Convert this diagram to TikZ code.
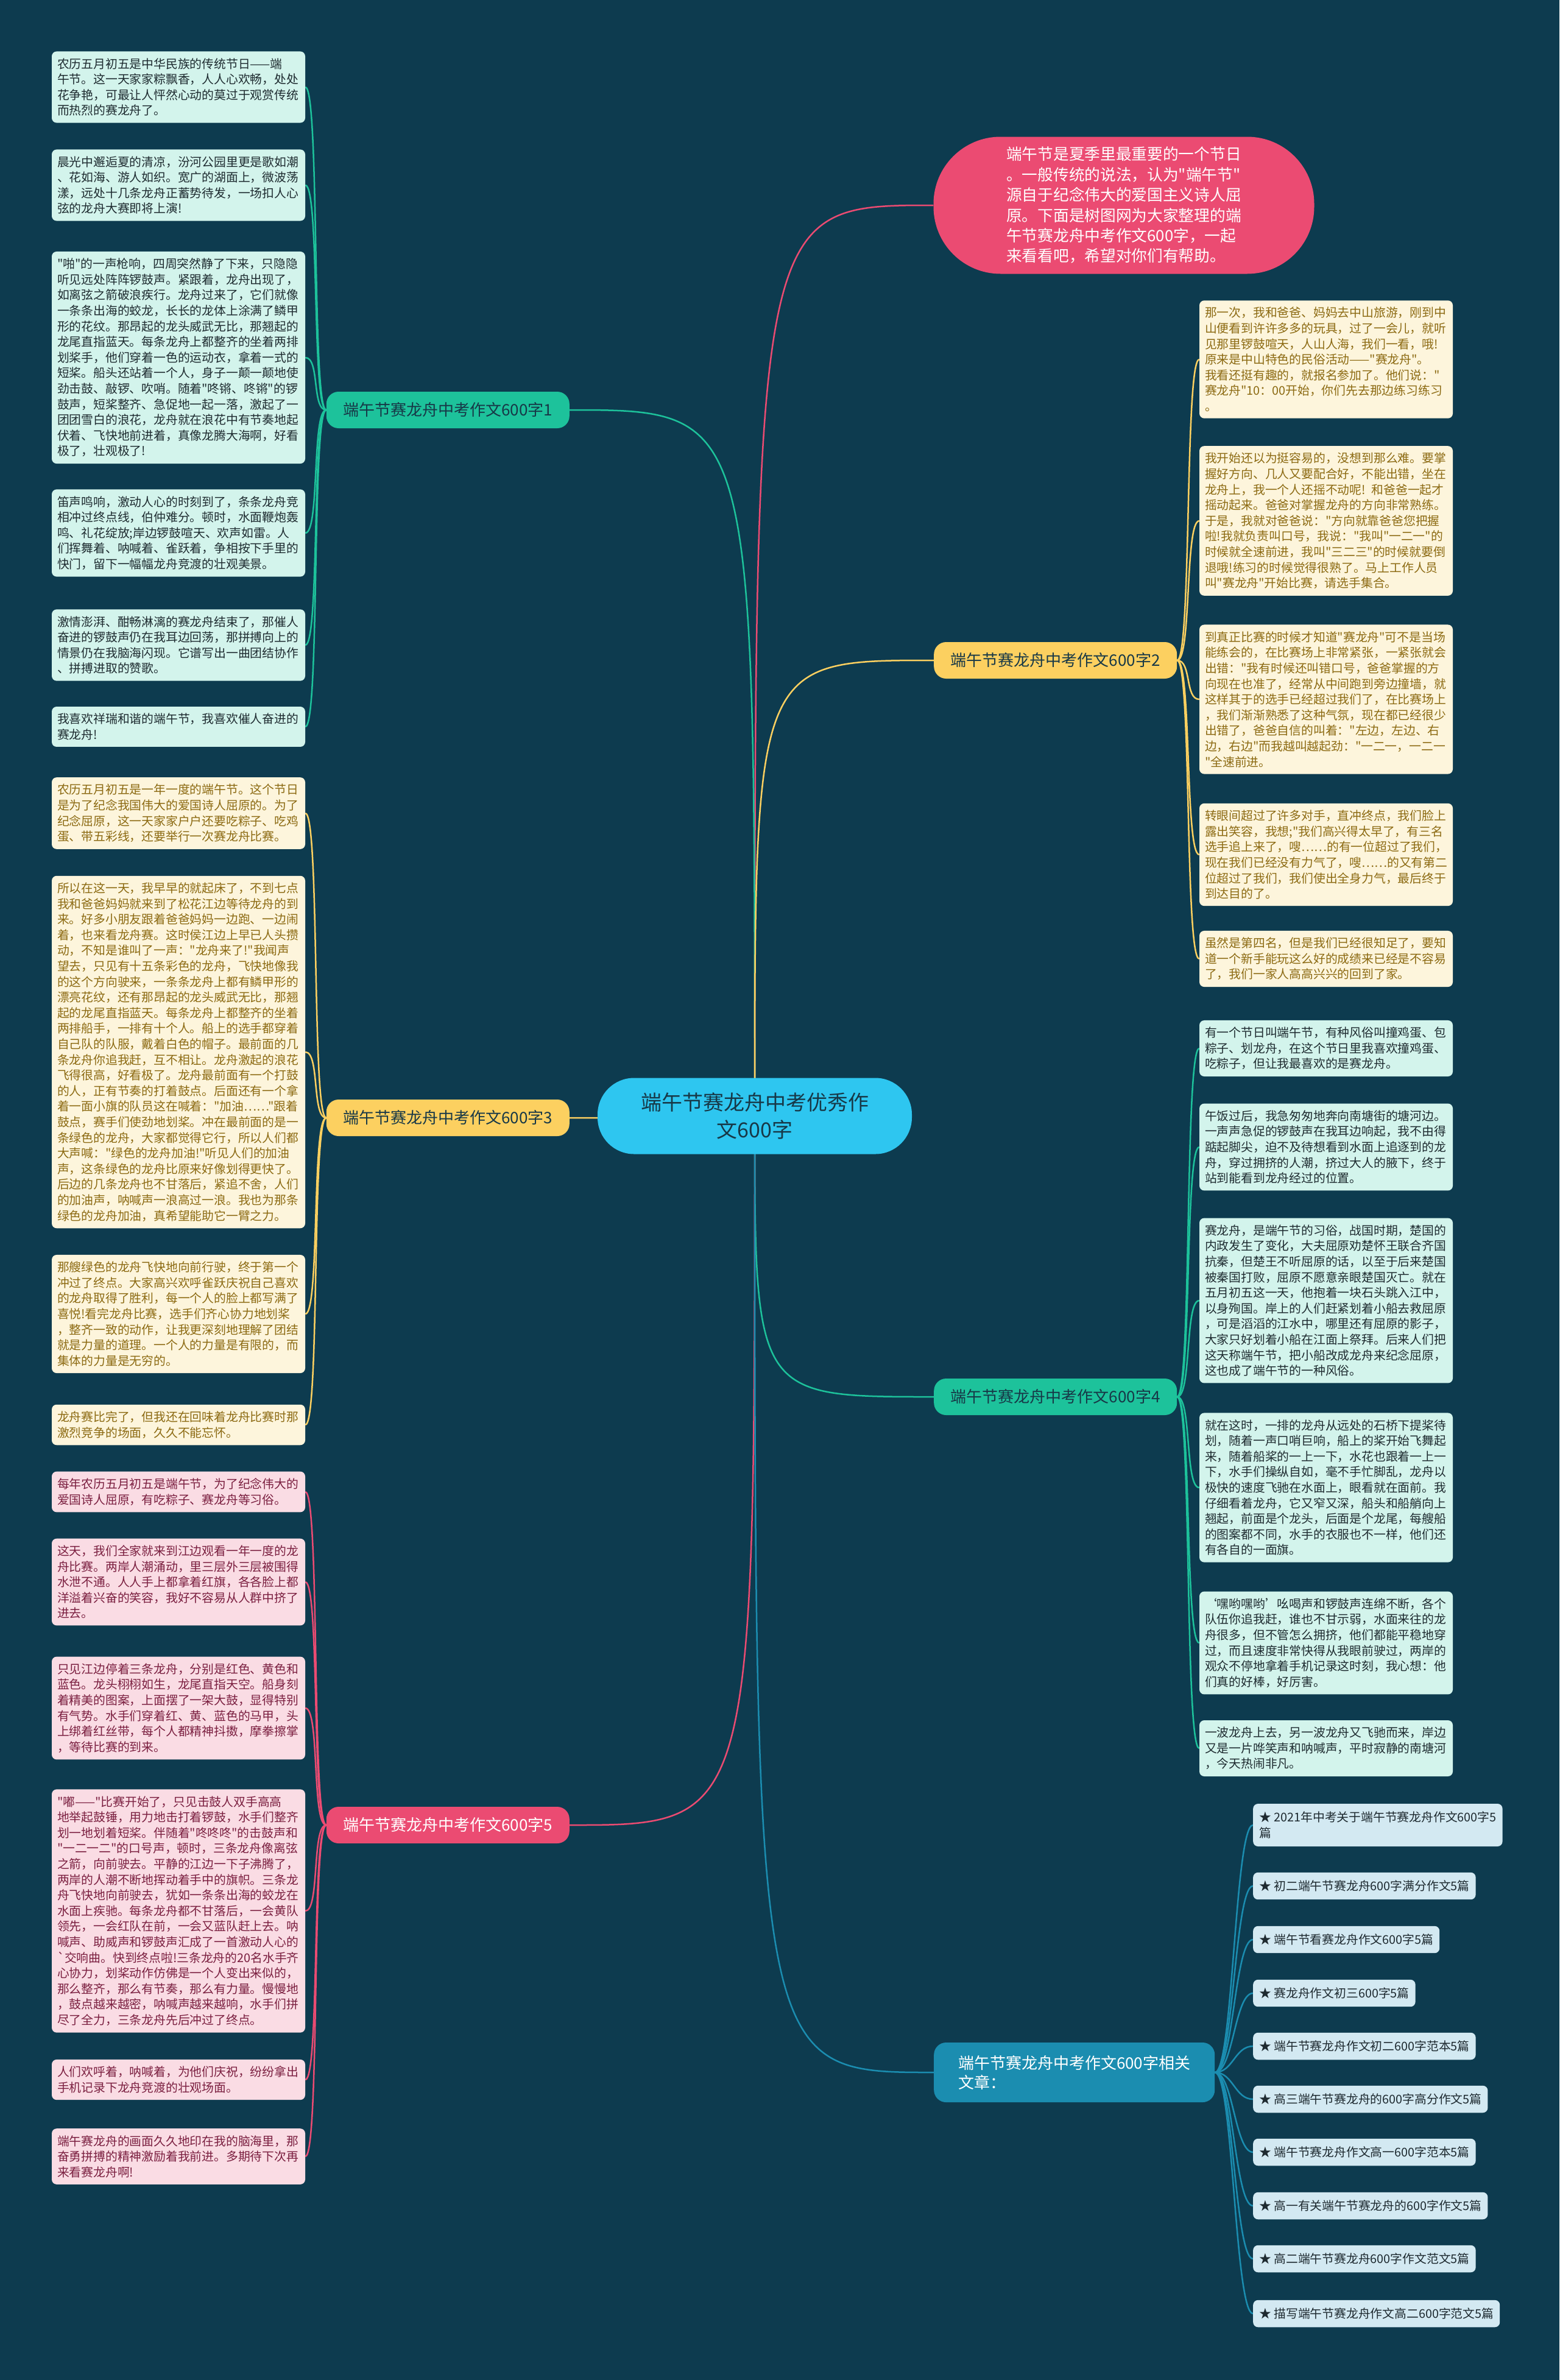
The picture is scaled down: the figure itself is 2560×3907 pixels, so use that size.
\documentclass[tikz,border=0pt]{standalone}
\usepackage{fontspec}
\newfontfamily\cjkfont{Noto Sans CJK SC}
\usetikzlibrary{positioning,backgrounds}

\definecolor{bgc}{HTML}{0D3B4F}
\definecolor{greenc}{HTML}{1DC29B}
\definecolor{gleafc}{HTML}{D3F4EC}
\definecolor{gtextc}{HTML}{1E2B30}
\definecolor{yellowc}{HTML}{FCD060}
\definecolor{yleafc}{HTML}{FDF5DC}
\definecolor{ytextc}{HTML}{8C6A12}
\definecolor{pinkc}{HTML}{EB4B72}
\definecolor{pleafc}{HTML}{FADCE4}
\definecolor{ptextc}{HTML}{7B1F40}
\definecolor{bluec}{HTML}{1B8DB0}
\definecolor{bleafc}{HTML}{D3E9F2}
\definecolor{btextc}{HTML}{1E2A30}
\definecolor{rootc}{HTML}{2EC6F0}
\definecolor{darkc}{HTML}{173847}

\newcommand\leaffont{\cjkfont\fontsize{19.8pt}{25.6pt}\selectfont}
\newcommand\branchfont{\cjkfont\fontsize{26pt}{32pt}\selectfont}

\tikzset{
  leaf/.style={rounded corners=8pt, text width=398pt, align=left, inner xsep=9pt, inner ysep=11pt, font=\leaffont},
  gleaf/.style={leaf, fill=gleafc, text=gtextc},
  yleaf/.style={leaf, fill=yleafc, text=ytextc},
  pleaf/.style={leaf, fill=pleafc, text=ptextc},
  relitem/.style={rounded corners=8pt, align=left, inner xsep=10pt, inner ysep=13pt, font=\leaffont, fill=bleafc, text=btextc, anchor=west},
  branch/.style={rounded corners=20pt, minimum width=399pt, minimum height=60pt, font=\branchfont},
  edgeg/.style={draw=greenc, line width=2.5pt},
  edgey/.style={draw=yellowc, line width=2.5pt},
  edgep/.style={draw=pinkc, line width=2.5pt},
  edgeb/.style={draw=bluec, line width=2.5pt},
}

\begin{document}
\begin{tikzpicture}[x=1pt, y=-1pt]
    \useasboundingbox (0,0) rectangle (2560,3907);

    % Root and intro
    \node[fill=rootc, text=darkc, rounded corners=60pt, minimum width=516pt, minimum height=125pt, align=center, font=\cjkfont\fontsize{34pt}{45pt}\selectfont] (root) at (1239,1832) {端午节赛龙舟中考优秀作\\文600字};
    \node[fill=pinkc, text=white, rounded corners=110pt, minimum width=625pt, minimum height=225pt, align=left, font=\cjkfont\fontsize{25.7pt}{33.4pt}\selectfont] (intro) at (1845,337) {端午节是夏季里最重要的一个节日\\。一般传统的说法，认为"端午节"\\源自于纪念伟大的爱国主义诗人屈\\原。下面是树图网为大家整理的端\\午节赛龙舟中考作文600字，一起\\来看看吧，希望对你们有帮助。};

    % Branch labels
    \node[branch, fill=greenc, text=darkc, anchor=east] (b1) at (935,673) {端午节赛龙舟中考作文600字1};
    \node[branch, fill=yellowc, text=darkc, anchor=west] (b2) at (1533,1084) {端午节赛龙舟中考作文600字2};
    \node[branch, fill=yellowc, text=darkc, anchor=east] (b3) at (935,1835) {端午节赛龙舟中考作文600字3};
    \node[branch, fill=greenc, text=darkc, anchor=west] (b4) at (1533,2293) {端午节赛龙舟中考作文600字4};
    \node[branch, fill=pinkc, text=white, anchor=east] (b5) at (935,2996) {端午节赛龙舟中考作文600字5};
    \node[branch, fill=bluec, text=white, anchor=west, align=left, minimum width=461pt, inner ysep=21pt] (b6) at (1533,3402) {端午节赛龙舟中考作文600字相关\\文章：};

    % Branch 1 leaves
    \node[gleaf] (b1a) at (293,143) {农历五月初五是中华民族的传统节日——端\\午节。这一天家家粽飘香，人人心欢畅，处处\\花争艳，可最让人怦然心动的莫过于观赏传统\\而热烈的赛龙舟了。};
    \node[gleaf] (b1b) at (293,304) {晨光中邂逅夏的清凉，汾河公园里更是歌如潮\\、花如海、游人如织。宽广的湖面上，微波荡\\漾，远处十几条龙舟正蓄势待发，一场扣人心\\弦的龙舟大赛即将上演!};
    \node[gleaf] (b1c) at (293,587) {"啪"的一声枪响，四周突然静了下来，只隐隐\\听见远处阵阵锣鼓声。紧跟着，龙舟出现了，\\如离弦之箭破浪疾行。龙舟过来了，它们就像\\一条条出海的蛟龙，长长的龙体上涂满了鳞甲\\形的花纹。那昂起的龙头威武无比，那翘起的\\龙尾直指蓝天。每条龙舟上都整齐的坐着两排\\划桨手，他们穿着一色的运动衣，拿着一式的\\短桨。船头还站着一个人，身子一颠一颠地使\\劲击鼓、敲锣、吹哨。随着"咚锵、咚锵"的锣\\鼓声，短桨整齐、急促地一起一落，激起了一\\团团雪白的浪花，龙舟就在浪花中有节奏地起\\伏着、飞快地前进着，真像龙腾大海啊，好看\\极了，壮观极了!};
    \node[gleaf] (b1d) at (293,875) {笛声鸣响，激动人心的时刻到了，条条龙舟竞\\相冲过终点线，伯仲难分。顿时，水面鞭炮轰\\鸣、礼花绽放;岸边锣鼓喧天、欢声如雷。人\\们挥舞着、呐喊着、雀跃着，争相按下手里的\\快门，留下一幅幅龙舟竞渡的壮观美景。};
    \node[gleaf] (b1e) at (293,1059) {激情澎湃、酣畅淋漓的赛龙舟结束了，那催人\\奋进的锣鼓声仍在我耳边回荡，那拼搏向上的\\情景仍在我脑海闪现。它谱写出一曲团结协作\\、拼搏进取的赞歌。};
    \node[gleaf] (b1f) at (293,1193) {我喜欢祥瑞和谐的端午节，我喜欢催人奋进的\\赛龙舟!};

    % Branch 3 leaves
    \node[yleaf] (b3a) at (293,1335) {农历五月初五是一年一度的端午节。这个节日\\是为了纪念我国伟大的爱国诗人屈原的。为了\\纪念屈原，这一天家家户户还要吃粽子、吃鸡\\蛋、带五彩线，还要举行一次赛龙舟比赛。};
    \node[yleaf] (b3b) at (293,1727) {所以在这一天，我早早的就起床了，不到七点\\我和爸爸妈妈就来到了松花江边等待龙舟的到\\来。好多小朋友跟着爸爸妈妈一边跑、一边闹\\着，也来看龙舟赛。这时侯江边上早已人头攒\\动，不知是谁叫了一声："龙舟来了!"我闻声\\望去，只见有十五条彩色的龙舟，飞快地像我\\的这个方向驶来，一条条龙舟上都有鳞甲形的\\漂亮花纹，还有那昂起的龙头威武无比，那翘\\起的龙尾直指蓝天。每条龙舟上都整齐的坐着\\两排船手，一排有十个人。船上的选手都穿着\\自己队的队服，戴着白色的帽子。最前面的几\\条龙舟你追我赶，互不相让。龙舟激起的浪花\\飞得很高，好看极了。龙舟最前面有一个打鼓\\的人，正有节奏的打着鼓点。后面还有一个拿\\着一面小旗的队员这在喊着："加油……"跟着\\鼓点，赛手们使劲地划桨。冲在最前面的是一\\条绿色的龙舟，大家都觉得它行，所以人们都\\大声喊："绿色的龙舟加油!"听见人们的加油\\声，这条绿色的龙舟比原来好像划得更快了。\\后边的几条龙舟也不甘落后，紧追不舍，人们\\的加油声，呐喊声一浪高过一浪。我也为那条\\绿色的龙舟加油，真希望能助它一臂之力。};
    \node[yleaf] (b3c) at (293,2157) {那艘绿色的龙舟飞快地向前行驶，终于第一个\\冲过了终点。大家高兴欢呼雀跃庆祝自己喜欢\\的龙舟取得了胜利，每一个人的脸上都写满了\\喜悦!看完龙舟比赛，选手们齐心协力地划桨\\，整齐一致的动作，让我更深刻地理解了团结\\就是力量的道理。一个人的力量是有限的，而\\集体的力量是无穷的。};
    \node[yleaf] (b3d) at (293,2339) {龙舟赛比完了，但我还在回味着龙舟比赛时那\\激烈竞争的场面，久久不能忘怀。};

    % Branch 5 leaves
    \node[pleaf] (b5a) at (293,2449) {每年农历五月初五是端午节，为了纪念伟大的\\爱国诗人屈原，有吃粽子、赛龙舟等习俗。};
    \node[pleaf] (b5b) at (293,2597) {这天，我们全家就来到江边观看一年一度的龙\\舟比赛。两岸人潮涌动，里三层外三层被围得\\水泄不通。人人手上都拿着红旗，各各脸上都\\洋溢着兴奋的笑容，我好不容易从人群中挤了\\进去。};
    \node[pleaf] (b5c) at (293,2804) {只见江边停着三条龙舟，分别是红色、黄色和\\蓝色。龙头栩栩如生，龙尾直指天空。船身刻\\着精美的图案，上面摆了一架大鼓，显得特别\\有气势。水手们穿着红、黄、蓝色的马甲，头\\上绑着红丝带，每个人都精神抖擞，摩拳擦掌\\，等待比赛的到来。};
    \node[pleaf] (b5d) at (293,3137) {"嘟——"比赛开始了，只见击鼓人双手高高\\地举起鼓锤，用力地击打着锣鼓，水手们整齐\\划一地划着短桨。伴随着"咚咚咚"的击鼓声和\\"一二一二"的口号声，顿时，三条龙舟像离弦\\之箭，向前驶去。平静的江边一下子沸腾了，\\两岸的人潮不断地挥动着手中的旗帜。三条龙\\舟飞快地向前驶去，犹如一条条出海的蛟龙在\\水面上疾驰。每条龙舟都不甘落后，一会黄队\\领先，一会红队在前，一会又蓝队赶上去。呐\\喊声、助威声和锣鼓声汇成了一首激动人心的\\`交响曲。快到终点啦!三条龙舟的20名水手齐\\心协力，划桨动作仿佛是一个人变出来似的，\\那么整齐，那么有节奏，那么有力量。慢慢地\\，鼓点越来越密，呐喊声越来越响，水手们拼\\尽了全力，三条龙舟先后冲过了终点。};
    \node[pleaf] (b5e) at (293,3414) {人们欢呼着，呐喊着，为他们庆祝，纷纷拿出\\手机记录下龙舟竞渡的壮观场面。};
    \node[pleaf] (b5f) at (293,3540) {端午赛龙舟的画面久久地印在我的脑海里，那\\奋勇拼搏的精神激励着我前进。多期待下次再\\来看赛龙舟啊!};

    % Branch 2 leaves
    \node[yleaf] (b2a) at (2177,590) {那一次，我和爸爸、妈妈去中山旅游，刚到中\\山便看到许许多多的玩具，过了一会儿，就听\\见那里锣鼓喧天，人山人海，我们一看，哦!\\原来是中山特色的民俗活动——"赛龙舟"。\\我看还挺有趣的，就报名参加了。他们说："\\赛龙舟"10：00开始，你们先去那边练习练习\\。};
    \node[yleaf] (b2b) at (2177,855) {我开始还以为挺容易的，没想到那么难。要掌\\握好方向、几人又要配合好，不能出错，坐在\\龙舟上，我一个人还摇不动呢! 和爸爸一起才\\摇动起来。爸爸对掌握龙舟的方向非常熟练。\\于是，我就对爸爸说："方向就靠爸爸您把握\\啦!我就负责叫口号，我说："我叫"一二一"的\\时候就全速前进，我叫"三二三"的时候就要倒\\退哦!练习的时候觉得很熟了。马上工作人员\\叫"赛龙舟"开始比赛，请选手集合。};
    \node[yleaf] (b2c) at (2177,1148) {到真正比赛的时候才知道"赛龙舟"可不是当场\\能练会的，在比赛场上非常紧张，一紧张就会\\出错："我有时候还叫错口号，爸爸掌握的方\\向现在也准了，经常从中间跑到旁边撞墙，就\\这样其于的选手已经超过我们了，在比赛场上\\，我们渐渐熟悉了这种气氛，现在都已经很少\\出错了，爸爸自信的叫着："左边，左边、右\\边，右边"而我越叫越起劲："一二一，一二一\\"全速前进。};
    \node[yleaf] (b2d) at (2177,1403) {转眼间超过了许多对手，直冲终点，我们脸上\\露出笑容，我想;"我们高兴得太早了，有三名\\选手追上来了，嗖……的有一位超过了我们，\\现在我们已经没有力气了，嗖……的又有第二\\位超过了我们，我们使出全身力气，最后终于\\到达目的了。};
    \node[yleaf] (b2e) at (2177,1574) {虽然是第四名，但是我们已经很知足了，要知\\道一个新手能玩这么好的成绩来已经是不容易\\了，我们一家人高高兴兴的回到了家。};

    % Branch 4 leaves
    \node[gleaf] (b4a) at (2177,1721) {有一个节日叫端午节，有种风俗叫撞鸡蛋、包\\粽子、划龙舟，在这个节日里我喜欢撞鸡蛋、\\吃粽子，但让我最喜欢的是赛龙舟。};
    \node[gleaf] (b4b) at (2177,1883) {午饭过后，我急匆匆地奔向南塘街的塘河边。\\一声声急促的锣鼓声在我耳边响起，我不由得\\踮起脚尖，迫不及待想看到水面上追逐到的龙\\舟，穿过拥挤的人潮，挤过大人的腋下，终于\\站到能看到龙舟经过的位置。};
    \node[gleaf] (b4c) at (2177,2135) {赛龙舟，是端午节的习俗，战国时期，楚国的\\内政发生了变化，大夫屈原劝楚怀王联合齐国\\抗秦，但楚王不听屈原的话，以至于后来楚国\\被秦国打败，屈原不愿意亲眼楚国灭亡。就在\\五月初五这一天，他抱着一块石头跳入江中，\\以身殉国。岸上的人们赶紧划着小船去救屈原\\，可是滔滔的江水中，哪里还有屈原的影子，\\大家只好划着小船在江面上祭拜。后来人们把\\这天称端午节，把小船改成龙舟来纪念屈原，\\这也成了端午节的一种风俗。};
    \node[gleaf] (b4d) at (2177,2442) {就在这时，一排的龙舟从远处的石桥下提桨待\\划，随着一声口哨巨响，船上的桨开始飞舞起\\来，随着船桨的一上一下，水花也跟着一上一\\下，水手们操纵自如，毫不手忙脚乱，龙舟以\\极快的速度飞驰在水面上，眼看就在面前。我\\仔细看着龙舟，它又窄又深，船头和船艄向上\\翘起，前面是个龙头，后面是个龙尾，每艘船\\的图案都不同，水手的衣服也不一样，他们还\\有各自的一面旗。};
    \node[gleaf] (b4e) at (2177,2697) {‘嘿哟嘿哟’吆喝声和锣鼓声连绵不断，各个\\队伍你追我赶，谁也不甘示弱，水面来往的龙\\舟很多，但不管怎么拥挤，他们都能平稳地穿\\过，而且速度非常快得从我眼前驶过，两岸的\\观众不停地拿着手机记录这时刻，我心想：他\\们真的好棒，好厉害。};
    \node[gleaf] (b4f) at (2177,2870) {一波龙舟上去，另一波龙舟又飞驰而来，岸边\\又是一片哗笑声和呐喊声，平时寂静的南塘河\\，今天热闹非凡。};

    % Related articles
    \foreach \i/\y/\t in {1/2996/{★ 2021年中考关于端午节赛龙舟作文600字5\\篇},
                          2/3096/{★ 初二端午节赛龙舟600字满分作文5篇},
                          3/3184/{★ 端午节看赛龙舟作文600字5篇},
                          4/3272/{★ 赛龙舟作文初三600字5篇},
                          5/3359/{★ 端午节赛龙舟作文初二600字范本5篇},
                          6/3446/{★ 高三端午节赛龙舟的600字高分作文5篇},
                          7/3533/{★ 端午节赛龙舟作文高一600字范本5篇},
                          8/3621/{★ 高一有关端午节赛龙舟的600字作文5篇},
                          9/3708/{★ 高二端午节赛龙舟600字作文范文5篇},
                          10/3798/{★ 描写端午节赛龙舟作文高二600字范文5篇}} {
        \node[relitem] (rel\i) at (2057,\y) {\t};
    }

    % Connectors
    \begin{pgfonlayer}{background}
        \fill[bgc] (0,0) rectangle (2560,3907);

        \draw[edgep] (root.center) .. controls (root.center |- intro.west) .. (intro.west);
        \draw[edgeg] (root.center) .. controls (root.center |- b1.east) .. (b1.east);
        \draw[edgey] (root.center) .. controls (root.center |- b2.west) .. (b2.west);
        \draw[edgey] (root.center) .. controls (root.center |- b3.east) .. (b3.east);
        \draw[edgeg] (root.center) .. controls (root.center |- b4.west) .. (b4.west);
        \draw[edgep] (root.center) .. controls (root.center |- b5.east) .. (b5.east);
        \draw[edgeb] (root.center) .. controls (root.center |- b6.west) .. (b6.west);

        \foreach \n in {b1a,b1b,b1c,b1d,b1e,b1f}
            \draw[edgeg] (b1.west) .. controls +(-24,0) and +(24,0) .. (\n.east);
        \foreach \n in {b3a,b3b,b3c,b3d}
            \draw[edgey] (b3.west) .. controls +(-24,0) and +(24,0) .. (\n.east);
        \foreach \n in {b5a,b5b,b5c,b5d,b5e,b5f}
            \draw[edgep] (b5.west) .. controls +(-24,0) and +(24,0) .. (\n.east);
        \foreach \n in {b2a,b2b,b2c,b2d,b2e}
            \draw[edgey] (b2.east) .. controls +(24,0) and +(-24,0) .. (\n.west);
        \foreach \n in {b4a,b4b,b4c,b4d,b4e,b4f}
            \draw[edgeg] (b4.east) .. controls +(24,0) and +(-24,0) .. (\n.west);
        \foreach \i in {1,...,10}
            \draw[edgeb] (b6.east) .. controls +(30,0) and +(-30,0) .. (rel\i.west);
    \end{pgfonlayer}
\end{tikzpicture}
\end{document}
